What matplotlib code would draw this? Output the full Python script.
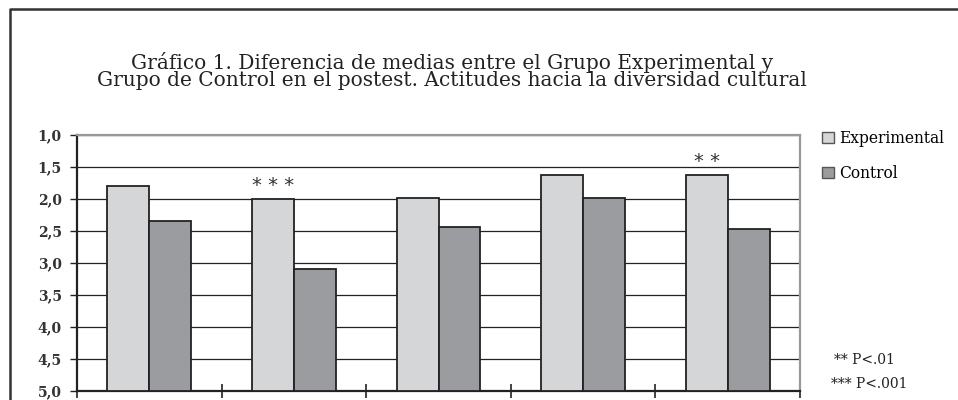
import numpy as np
import matplotlib
matplotlib.use("Agg")
import matplotlib.pyplot as plt
from matplotlib.patches import Patch
from matplotlib.lines import Line2D

# data (scale runs 1 = best at top, 5 at bottom)
groups = [1, 2, 3, 4, 5]
experimental = [1.80, 2.00, 1.99, 1.63, 1.63]
control = [2.34, 3.10, 2.43, 1.99, 2.47]
sig_marks = {2: "* * *", 5: "* *"}
yticks = [1.0, 1.5, 2.0, 2.5, 3.0, 3.5, 4.0, 4.5, 5.0]
ytick_labels = ["1,0", "1,5", "2,0", "2,5", "3,0", "3,5", "4,0", "4,5", "5,0"]
title = ("Gráfico 1. Diferencia de medias entre el Grupo Experimental y\n"
         "Grupo de Control en el postest. Actitudes hacia la diversidad cultural")
notes = ["** P<.01", "*** P<.001"]

plt.rcParams["font.family"] = ["DejaVu Serif"]
EXP_C, CTL_C, EDGE = "#d5d6d8", "#9b9c9f", "#222222"

fig = plt.figure(figsize=(9.58, 4.0), dpi=100)
ax = fig.add_axes([0.0804, 0.0225, 0.7547, 0.64])

x = np.array(groups, dtype=float)
w = 0.29
base = 5.0
ax.bar(x - w / 2, np.array(experimental) - base, bottom=base, width=w,
       color=EXP_C, edgecolor=EDGE, linewidth=1.3, zorder=3)
ax.bar(x + w / 2, np.array(control) - base, bottom=base, width=w,
       color=CTL_C, edgecolor=EDGE, linewidth=1.3, zorder=3)

for g, txt in sig_marks.items():
    ax.text(g - w / 2, experimental[g - 1] - 0.07, txt, ha="center", va="bottom",
            fontsize=14, color="#333333", family="DejaVu Sans")

ax.set_ylim(5.0, 1.0)
ax.set_xlim(0.5, 5.5)
ax.set_yticks(yticks)
ax.set_yticklabels(ytick_labels, fontsize=10, fontweight="bold", color="#333333")
ax.yaxis.grid(True, color="#222222", linewidth=0.9, zorder=0)
ax.set_xticks(np.arange(0.5, 6.0, 1.0))
ax.set_xticklabels([])
ax.tick_params(axis="x", direction="inout", length=10, width=1.2, color="#222222")
ax.tick_params(axis="y", direction="out", length=5, width=1.0, color="#222222", pad=6)

for side in ("left", "bottom"):
    ax.spines[side].set_color("#222222")
    ax.spines[side].set_linewidth(1.6)
for side in ("top", "right"):
    ax.spines[side].set_color("#999999")
    ax.spines[side].set_linewidth(1.6)

fig.text(0.472, 0.822, title, ha="center", va="center", fontsize=14.5,
         linespacing=0.9, color="#222222")

handles = [Patch(facecolor=EXP_C, edgecolor="#555555", label="Experimental"),
           Patch(facecolor=CTL_C, edgecolor="#555555", label="Control")]
fig.legend(handles=handles, loc="upper left", bbox_to_anchor=(0.852, 0.69),
           frameon=False, fontsize=11.2, handlelength=0.75, handleheight=0.75,
           handletextpad=0.3, labelspacing=1.15, borderaxespad=0)

fig.text(0.934, 0.10, notes[0], ha="right", va="center", fontsize=10, color="#222222")
fig.text(0.947, 0.04, notes[1], ha="right", va="center", fontsize=10, color="#222222")

# outer frame of the figure (only top and left edges are visible)
fig.add_artist(Line2D([0.0105, 0.0105, 1.0], [0.0, 0.978, 0.978],
                      transform=fig.transFigure, color="#333333", linewidth=1.8))

fig.savefig("out.png", dpi=100)
